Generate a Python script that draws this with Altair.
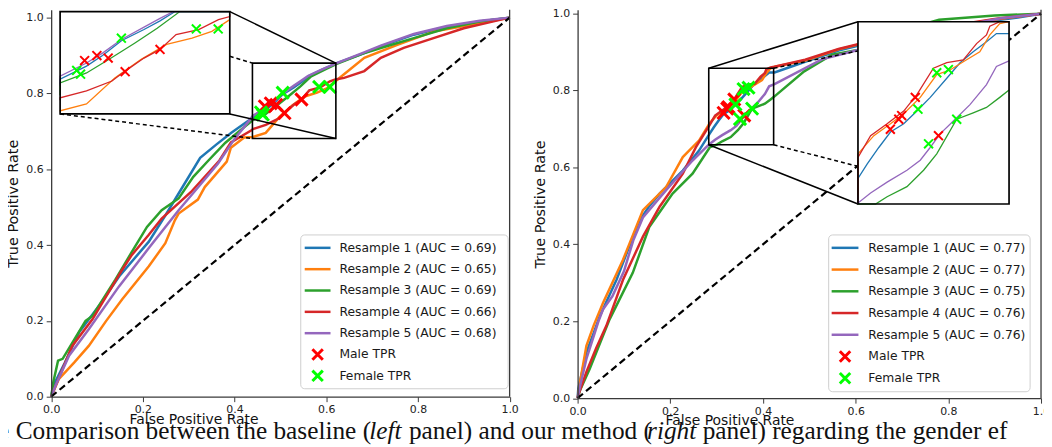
import altair as alt
import pandas as pd

# ------------------------------------------------------------------ data
SERIES = ["Resample 1", "Resample 2", "Resample 3", "Resample 4", "Resample 5"]
COLORS = ["#1f77b4", "#ff7f0e", "#2ca02c", "#d62728", "#9467bd"]
LEFT_AUC = [0.69, 0.65, 0.69, 0.66, 0.68]
RIGHT_AUC = [0.77, 0.77, 0.75, 0.76, 0.76]
TICKS = [0.0, 0.2, 0.4, 0.6, 0.8, 1.0]

# left panel (baseline) ROC curves
L1_FPR = [0.0, 0.005, 0.03, 0.061, 0.104, 0.15, 0.213, 0.25, 0.278, 0.325, 0.36, 0.393, 0.43, 0.44, 0.468, 0.485, 0.505, 0.529, 0.546, 0.562, 0.59, 0.623, 0.68, 0.719, 0.791, 0.863, 0.935, 1.0]
L1_TPR = [0.0, 0.03, 0.09, 0.17, 0.239, 0.32, 0.409, 0.48, 0.536, 0.63, 0.665, 0.696, 0.728, 0.736, 0.757, 0.774, 0.798, 0.816, 0.830, 0.846, 0.862, 0.880, 0.905, 0.924, 0.955, 0.976, 0.99, 1.0]
L2_FPR = [0.0, 0.017, 0.05, 0.082, 0.12, 0.155, 0.213, 0.249, 0.27, 0.278, 0.32, 0.335, 0.383, 0.392, 0.421, 0.44, 0.468, 0.498, 0.526, 0.553, 0.58, 0.601, 0.62, 0.683, 0.755, 0.834, 0.935, 1.0]
L2_TPR = [0.0, 0.047, 0.09, 0.134, 0.2, 0.257, 0.344, 0.405, 0.466, 0.483, 0.52, 0.553, 0.62, 0.657, 0.684, 0.685, 0.696, 0.738, 0.768, 0.792, 0.802, 0.813, 0.832, 0.894, 0.928, 0.963, 0.985, 1.0]
L3_FPR = [0.0, 0.005, 0.015, 0.025, 0.05, 0.075, 0.09, 0.14, 0.175, 0.209, 0.241, 0.278, 0.31, 0.343, 0.38, 0.42, 0.44, 0.468, 0.492, 0.519, 0.543, 0.567, 0.6, 0.623, 0.68, 0.719, 0.791, 0.863, 0.935, 1.0]
L3_TPR = [0.0, 0.04, 0.095, 0.1, 0.15, 0.2, 0.213, 0.309, 0.38, 0.448, 0.492, 0.523, 0.58, 0.623, 0.67, 0.71, 0.73, 0.746, 0.768, 0.794, 0.818, 0.845, 0.865, 0.878, 0.905, 0.92, 0.946, 0.972, 0.99, 1.0]
L4_FPR = [0.0, 0.01, 0.046, 0.09, 0.155, 0.176, 0.213, 0.241, 0.305, 0.367, 0.392, 0.436, 0.44, 0.468, 0.495, 0.509, 0.529, 0.546, 0.563, 0.587, 0.608, 0.62, 0.639, 0.683, 0.719, 0.769, 0.834, 0.9, 0.965, 1.0]
L4_TPR = [0.0, 0.03, 0.134, 0.204, 0.335, 0.374, 0.427, 0.47, 0.54, 0.623, 0.671, 0.702, 0.706, 0.717, 0.733, 0.749, 0.770, 0.784, 0.808, 0.816, 0.832, 0.837, 0.841, 0.859, 0.894, 0.92, 0.946, 0.972, 0.99, 1.0]
L5_FPR = [0.0, 0.01, 0.039, 0.082, 0.148, 0.213, 0.278, 0.321, 0.364, 0.4, 0.43, 0.44, 0.468, 0.485, 0.505, 0.529, 0.546, 0.56, 0.59, 0.623, 0.68, 0.719, 0.791, 0.863, 0.935, 1.0]
L5_TPR = [0.0, 0.03, 0.108, 0.178, 0.291, 0.392, 0.492, 0.553, 0.615, 0.68, 0.725, 0.741, 0.762, 0.778, 0.80, 0.82, 0.834, 0.846, 0.863, 0.88, 0.907, 0.926, 0.957, 0.978, 0.992, 1.0]
L_MALE_FPR = [0.466, 0.479, 0.491, 0.509, 0.546]
L_MALE_TPR = [0.766, 0.774, 0.770, 0.748, 0.784]
L_FEMALE_FPR = [0.4576, 0.4617, 0.505, 0.5845, 0.6077]
L_FEMALE_TPR = [0.750, 0.744, 0.802, 0.817, 0.817]

# right panel (our method) ROC curves
R1_FPR = [0.0, 0.0015, 0.01, 0.019, 0.035, 0.048, 0.084, 0.11, 0.134, 0.155, 0.177, 0.227, 0.262, 0.285, 0.2936, 0.3043, 0.3151, 0.3274, 0.3396, 0.352, 0.3673, 0.3796, 0.3918, 0.4041, 0.4133, 0.425, 0.491, 0.563, 0.607, 0.7, 0.8, 0.9, 0.95, 1.0]
R1_TPR = [0.0, 0.025, 0.07, 0.119, 0.17, 0.214, 0.308, 0.39, 0.463, 0.5, 0.532, 0.592, 0.644, 0.688, 0.704, 0.722, 0.739, 0.748, 0.762, 0.777, 0.798, 0.815, 0.827, 0.838, 0.847, 0.847, 0.875, 0.904, 0.917, 0.94, 0.962, 0.982, 0.99, 1.0]
R2_FPR = [0.0, 0.005, 0.019, 0.035, 0.055, 0.098, 0.141, 0.191, 0.227, 0.262, 0.285, 0.2997, 0.3151, 0.3274, 0.3427, 0.358, 0.3703, 0.3826, 0.3979, 0.4072, 0.4164, 0.425, 0.491, 0.563, 0.607, 0.7, 0.8, 0.9, 1.0]
R2_TPR = [0.0, 0.04, 0.136, 0.19, 0.248, 0.36, 0.489, 0.549, 0.627, 0.67, 0.715, 0.735, 0.748, 0.759, 0.777, 0.802, 0.807, 0.816, 0.827, 0.8455, 0.858, 0.862, 0.878, 0.907, 0.92, 0.945, 0.966, 0.985, 1.0]
R3_FPR = [0.0, 0.005, 0.026, 0.069, 0.119, 0.155, 0.205, 0.248, 0.285, 0.3013, 0.312, 0.3304, 0.3458, 0.358, 0.3765, 0.3918, 0.4041, 0.4164, 0.425, 0.489, 0.549, 0.607, 0.68, 0.78, 0.9, 1.0]
R3_TPR = [0.0, 0.02, 0.076, 0.205, 0.326, 0.446, 0.532, 0.584, 0.652, 0.660, 0.668, 0.679, 0.697, 0.715, 0.753, 0.760, 0.766, 0.777, 0.785, 0.85, 0.893, 0.906, 0.95, 0.984, 0.995, 1.0]
R4_FPR = [0.0, 0.005, 0.019, 0.04, 0.062, 0.098, 0.141, 0.177, 0.227, 0.255, 0.285, 0.2967, 0.312, 0.3274, 0.3396, 0.3549, 0.3673, 0.3826, 0.3949, 0.4041, 0.4072, 0.4164, 0.425, 0.491, 0.563, 0.607, 0.7, 0.8, 0.9, 1.0]
R4_TPR = [0.0, 0.02, 0.068, 0.13, 0.188, 0.308, 0.42, 0.498, 0.584, 0.652, 0.711, 0.735, 0.748, 0.762, 0.780, 0.809, 0.815, 0.818, 0.836, 0.8455, 0.855, 0.86, 0.862, 0.88, 0.908, 0.921, 0.946, 0.967, 0.986, 1.0]
R5_FPR = [0.0, 0.005, 0.019, 0.045, 0.055, 0.075, 0.1, 0.12, 0.141, 0.191, 0.248, 0.277, 0.285, 0.2967, 0.312, 0.3304, 0.3427, 0.3519, 0.3611, 0.3734, 0.3888, 0.4041, 0.4133, 0.425, 0.527, 0.607, 0.7, 0.8, 0.913, 1.0]
R5_TPR = [0.0, 0.03, 0.102, 0.2, 0.231, 0.265, 0.33, 0.41, 0.47, 0.541, 0.618, 0.652, 0.661, 0.672, 0.684, 0.697, 0.708, 0.722, 0.737, 0.751, 0.769, 0.791, 0.811, 0.817, 0.881, 0.906, 0.935, 0.962, 0.988, 1.0]
R_MALE_FPR = [0.315, 0.3228, 0.3255, 0.3381, 0.3596]
R_MALE_TPR = [0.742, 0.753, 0.757, 0.777, 0.735]
R_FEMALE_FPR = [0.358, 0.3688, 0.3406, 0.3504, 0.3765]
R_FEMALE_TPR = [0.804, 0.8075, 0.764, 0.726, 0.753]

CAPTION = [("e Comparison between the baseline (", "normal"), ("left", "italic"),
           ("panel) and our method (", "normal"), ("right", "italic"),
           ("panel) regarding the gender ef", "normal")]

# ------------------------------------------------------------------ layout / style
W, H = 1044, 439
AXIS_COLOR = "#3a3a3a"
SANS = "DejaVu Sans"
XPATH = "M -1 -1 L 1 1 M -1 1 L 1 -1"
CAPTION_X = [-10, 364, 404, 644, 700]

LEFT_CFG = dict(x0=43.5, x1=505.5, ybase=390.0, yunit=382.0,
                inset_box=(0.0195, 0.3896, 0.746, 1.016), inset_dom=(0.44, 0.62, 0.68, 0.845),
                rect=(0.439, 0.621, 0.681, 0.880),
                solid=[((0.3896, 1.016), (0.621, 0.880)), ((0.3896, 0.746), (0.621, 0.681))],
                dashed=[((0.3896, 0.898), (0.439, 0.880)), ((0.0195, 0.746), (0.439, 0.681))],
                legend=(295, 504, 227, 382), rows=(240, 21.5), sym=(299, 325), tx=334,
                title_x=187)
RIGHT_CFG = dict(x0=574.0, x1=1041.0, ybase=391.5, yunit=387.5,
                 inset_box=(0.605, 0.931, 0.505, 0.979), inset_dom=(0.285, 0.425, 0.66, 0.86),
                 rect=(0.283, 0.423, 0.659, 0.858),
                 solid=[((0.283, 0.858), (0.605, 0.979)), ((0.283, 0.659), (0.605, 0.505))],
                 dashed=[((0.423, 0.858), (0.605, 0.903)), ((0.423, 0.659), (0.605, 0.603))],
                 legend=(827, 1030, 227, 385), rows=(240, 21.9), sym=(830, 857), tx=867,
                 title_x=727)


def curves_df(curves):
    frames = []
    for name, (fx, ty) in zip(SERIES, curves):
        d = pd.DataFrame({"x": fx, "y": ty})
        d["s"] = name
        d["o"] = range(len(d))
        frames.append(d)
    return pd.concat(frames, ignore_index=True)


def panel(cfg, curves, male, female, aucs, caption):
    x0p, x1p, yb, yu = cfg["x0"], cfg["x1"], cfg["ybase"], cfg["yunit"]
    ytop = yb / yu

    def px(v):
        return x0p + v * (x1p - x0p)

    def py(v):
        return yb - v * yu

    xs = alt.Scale(domain=[0, 1], range=[x0p, x1p], nice=False, zero=False)
    ys = alt.Scale(domain=[0, ytop], range=[yb, 0], nice=False, zero=False)
    cscale = alt.Scale(domain=SERIES, range=COLORS)

    xaxis = alt.Axis(orient="bottom", offset=-(H - yb), values=TICKS, format=".1f", grid=False,
                     title="False Positive Rate", titleX=cfg["title_x"], titleY=23,
                     titleAlign="center", titleBaseline="middle", titleFont=SANS,
                     titleFontSize=14, titleFontWeight="normal", titleColor="#111",
                     labelFont=SANS, labelFontSize=11, labelColor="#222", labelPadding=2,
                     tickSize=5, tickColor=AXIS_COLOR, domainColor=AXIS_COLOR, domainWidth=1.3,
                     labelFlush=False, labelOverlap=False, zindex=1)
    yaxis = alt.Axis(orient="left", offset=-x0p, values=TICKS, format=".1f", grid=False,
                     title="True Positive Rate", titleFont=SANS, titleFontSize=14.5,
                     titleFontWeight="normal", titleColor="#111", titlePadding=5,
                     labelFont=SANS, labelFontSize=11, labelColor="#222", labelPadding=3,
                     tickSize=5, tickColor=AXIS_COLOR, domainColor=AXIS_COLOR, domainWidth=1.3,
                     labelFlush=False, labelOverlap=False, zindex=1)

    cdf = curves_df(curves)
    one = pd.DataFrame({"a": [0]})

    lines = alt.Chart(cdf).mark_line(strokeWidth=2.5).encode(
        x=alt.X("x:Q", scale=xs, axis=xaxis),
        y=alt.Y("y:Q", scale=ys, axis=yaxis),
        color=alt.Color("s:N", scale=cscale, legend=None),
        order="o:Q")
    diag = alt.Chart(pd.DataFrame({"x": [0.0, 1.0], "y": [0.0, 1.0]})).mark_line(
        color="black", strokeWidth=2.2, strokeDash=[7, 4]).encode(x="x:Q", y="y:Q")
    spine = alt.Chart(pd.DataFrame({"x": [1.0], "y": [0.0], "y2": [ytop]})).mark_rule(
        color=AXIS_COLOR, strokeWidth=1.3).encode(x="x:Q", y="y:Q", y2="y2:Q")
    r = cfg["rect"]
    zrect = alt.Chart(pd.DataFrame({"x": [r[0]], "x2": [r[1]], "y": [r[2]], "y2": [r[3]]})).mark_rect(
        fillOpacity=0, stroke="black", strokeWidth=1.6).encode(x="x:Q", x2="x2:Q", y="y:Q", y2="y2:Q")
    sol = pd.DataFrame([{"x": a[0], "y": a[1], "x2": b[0], "y2": b[1]} for a, b in cfg["solid"]])
    das = pd.DataFrame([{"x": a[0], "y": a[1], "x2": b[0], "y2": b[1]} for a, b in cfg["dashed"]])
    solid = alt.Chart(sol).mark_rule(color="black", strokeWidth=1.5).encode(
        x="x:Q", y="y:Q", x2="x2:Q", y2="y2:Q")
    dashed = alt.Chart(das).mark_rule(color="black", strokeWidth=1.5, strokeDash=[4, 3]).encode(
        x="x:Q", y="y:Q", x2="x2:Q", y2="y2:Q")
    mdf = pd.DataFrame({"x": male[0], "y": male[1]})
    fdf = pd.DataFrame({"x": female[0], "y": female[1]})
    mk_m = alt.Chart(mdf).mark_point(shape=XPATH, filled=False, strokeWidth=3, size=150,
                                     color="#ff0000", opacity=1).encode(x="x:Q", y="y:Q")
    mk_f = alt.Chart(fdf).mark_point(shape=XPATH, filled=False, strokeWidth=3, size=150,
                                     color="#00ff00", opacity=1).encode(x="x:Q", y="y:Q")

    main_layers = [lines, diag, spine, mk_m, mk_f, zrect, solid, dashed]

    # legend (drawn by hand so that lines and markers share one box)
    lx0, lx1, ly0, ly1 = cfg["legend"]
    main_layers.append(alt.Chart(one).mark_rect(fill="white", fillOpacity=0.85, stroke="#cfcfcf",
                                                strokeWidth=1, cornerRadius=4).encode(
        x=alt.value(lx0), x2=alt.value(lx1), y=alt.value(ly0), y2=alt.value(ly1)))
    r0, rh = cfg["rows"]
    s0, s1 = cfg["sym"]
    labels = [f"{n} (AUC = {a:.2f})" for n, a in zip(SERIES, aucs)]
    for i, (lab, col) in enumerate(zip(labels, COLORS)):
        yy = r0 + i * rh
        main_layers.append(alt.Chart(one).mark_rule(color=col, strokeWidth=2.5).encode(
            x=alt.value(s0), x2=alt.value(s1), y=alt.value(yy)))
        main_layers.append(alt.Chart(one).mark_text(align="left", baseline="middle", font=SANS,
                                                    fontSize=12.4, color="#1a1a1a").encode(
            x=alt.value(cfg["tx"]), y=alt.value(yy), text=alt.value(lab)))
    for j, (lab, col) in enumerate([("Male TPR", "#ff0000"), ("Female TPR", "#00ff00")]):
        yy = r0 + (5 + j) * rh
        main_layers.append(alt.Chart(one).mark_point(shape=XPATH, filled=False, strokeWidth=3,
                                                     size=110, color=col, opacity=1).encode(
            x=alt.value((s0 + s1) / 2), y=alt.value(yy)))
        main_layers.append(alt.Chart(one).mark_text(align="left", baseline="middle", font=SANS,
                                                    fontSize=12.4, color="#1a1a1a").encode(
            x=alt.value(cfg["tx"]), y=alt.value(yy), text=alt.value(lab)))

    if caption:
        for (txt, style), sx in zip(CAPTION, CAPTION_X):
            main_layers.append(alt.Chart(one).mark_text(
                align="left", baseline="alphabetic", font="Liberation Serif", fontSize=25.5,
                fontStyle=style, color="#111").encode(
                x=alt.value(sx), y=alt.value(433), text=alt.value(txt)))

    main = alt.layer(*main_layers)

    # inset (zoomed view)
    bx0, bx1, by0, by1 = cfg["inset_box"]
    zx0, zx1, zy0, zy1 = cfg["inset_dom"]
    ixs = alt.Scale(domain=[zx0, zx1], range=[px(bx0), px(bx1)], clamp=True, nice=False, zero=False)
    iys = alt.Scale(domain=[zy0, zy1], range=[py(by0), py(by1)], clamp=True, nice=False, zero=False)
    box = pd.DataFrame({"x": [zx0], "x2": [zx1], "y": [zy0], "y2": [zy1]})
    bg = alt.Chart(box).mark_rect(fill="white", stroke=None).encode(
        x=alt.X("x:Q", scale=ixs, axis=None), x2="x2:Q",
        y=alt.Y("y:Q", scale=iys, axis=None), y2="y2:Q")
    ilines = alt.Chart(cdf).transform_filter(
        (alt.datum.x >= zx0 - 0.03) & (alt.datum.x <= zx1 + 0.03)
    ).mark_line(strokeWidth=1.3).encode(
        x=alt.X("x:Q", scale=ixs, axis=None), y=alt.Y("y:Q", scale=iys, axis=None),
        color=alt.Color("s:N", scale=cscale, legend=None), order="o:Q")
    im = alt.Chart(mdf).mark_point(shape=XPATH, filled=False, strokeWidth=2, size=80,
                                   color="#ff0000", opacity=1).encode(
        x=alt.X("x:Q", scale=ixs, axis=None), y=alt.Y("y:Q", scale=iys, axis=None))
    iff = alt.Chart(fdf).mark_point(shape=XPATH, filled=False, strokeWidth=2, size=80,
                                    color="#00ff00", opacity=1).encode(
        x=alt.X("x:Q", scale=ixs, axis=None), y=alt.Y("y:Q", scale=iys, axis=None))
    border = alt.Chart(box).mark_rect(fillOpacity=0, stroke="black", strokeWidth=1.7).encode(
        x=alt.X("x:Q", scale=ixs, axis=None), x2="x2:Q",
        y=alt.Y("y:Q", scale=iys, axis=None), y2="y2:Q")
    inset = alt.layer(bg, ilines, im, iff, border)

    return alt.layer(main, inset).resolve_scale(x="independent", y="independent")


left = panel(LEFT_CFG,
             [(L1_FPR, L1_TPR), (L2_FPR, L2_TPR), (L3_FPR, L3_TPR), (L4_FPR, L4_TPR), (L5_FPR, L5_TPR)],
             (L_MALE_FPR, L_MALE_TPR), (L_FEMALE_FPR, L_FEMALE_TPR), LEFT_AUC, True)
right = panel(RIGHT_CFG,
              [(R1_FPR, R1_TPR), (R2_FPR, R2_TPR), (R3_FPR, R3_TPR), (R4_FPR, R4_TPR), (R5_FPR, R5_TPR)],
              (R_MALE_FPR, R_MALE_TPR), (R_FEMALE_FPR, R_FEMALE_TPR), RIGHT_AUC, False)

chart = alt.layer(left, right).resolve_scale(x="independent", y="independent").properties(
    width=W, height=H, padding=0, autosize=alt.AutoSizeParams(type="none"),
    background="white").configure_view(stroke=None)

chart.save("out.html", embed_options={"renderer": "svg", "actions": False})
